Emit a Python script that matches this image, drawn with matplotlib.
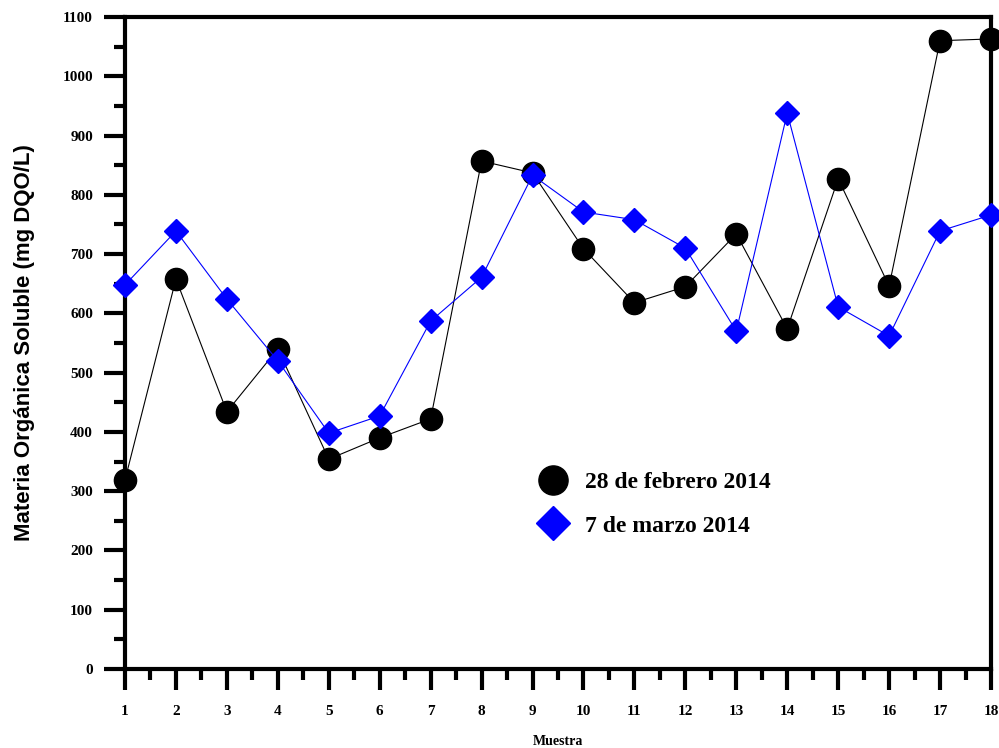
"""Materia organica soluble por muestra, dos campañas."""

import numpy as np
from matplotlib import pyplot as plt
from matplotlib.lines import Line2D
from matplotlib.ticker import MultipleLocator

muestra = list(range(1, 19))
feb_28 = [319, 658, 434, 540, 354, 390, 422, 857, 837, 709, 618, 645, 734, 574, 827, 646, 1060, 1063]
mar_7 = [648, 739, 624, 520, 398, 427, 587, 661, 833, 771, 758, 710, 570, 938, 611, 562, 739, 766]

serif = 'Liberation Serif'

fig = plt.figure(figsize=(9.99, 7.48), dpi=100)
ax = fig.add_axes([125 / 999, 1 - 669 / 748, (991 - 125) / 999, (669 - 17) / 748])

ax.plot(muestra, feb_28, color='black', lw=0.8, marker='o', ms=16,
        clip_on=False, zorder=3)
ax.plot(muestra, mar_7, color='blue', lw=0.8, marker='D', ms=12,
        clip_on=False, zorder=4)

ax.set_xlim(1, 18)
ax.set_ylim(0, 1100)
ax.xaxis.set_major_locator(MultipleLocator(1))
ax.xaxis.set_minor_locator(MultipleLocator(0.5))
ax.yaxis.set_major_locator(MultipleLocator(100))
ax.yaxis.set_minor_locator(MultipleLocator(50))

for s in ax.spines.values():
    s.set_linewidth(3)
ax.tick_params(which='major', direction='out', length=15, width=3, pad=8)
ax.tick_params(which='minor', direction='out', length=8, width=3)
ax.tick_params(axis='x', which='major', pad=11)
for lab in ax.get_xticklabels() + ax.get_yticklabels():
    lab.set_fontfamily(serif)
    lab.set_fontweight('bold')
    lab.set_fontsize(11)

ax.set_ylabel('Materia Orgánica Soluble (mg DQO/L)', family='Liberation Sans',
              fontweight='bold', fontsize=16, labelpad=20)
ax.set_xlabel('Muestra', family=serif, fontweight='bold', fontsize=10, labelpad=12)

# legend markers only (bigger than in the plot, like the original)
handles = [Line2D([], [], ls='none', marker='o', ms=21, color='black'),
           Line2D([], [], ls='none', marker='D', ms=17, color='blue')]
ax.legend(handles, ['28 de febrero 2014', '7 de marzo 2014'],
          loc='upper left', bbox_to_anchor=(0.46, 0.3206), frameon=False,
          prop={'family': serif, 'weight': 'bold', 'size': 17}, borderpad=0,
          handlelength=1.5, handletextpad=0.6, labelspacing=0.92)

fig.savefig('out.png', dpi=100)
